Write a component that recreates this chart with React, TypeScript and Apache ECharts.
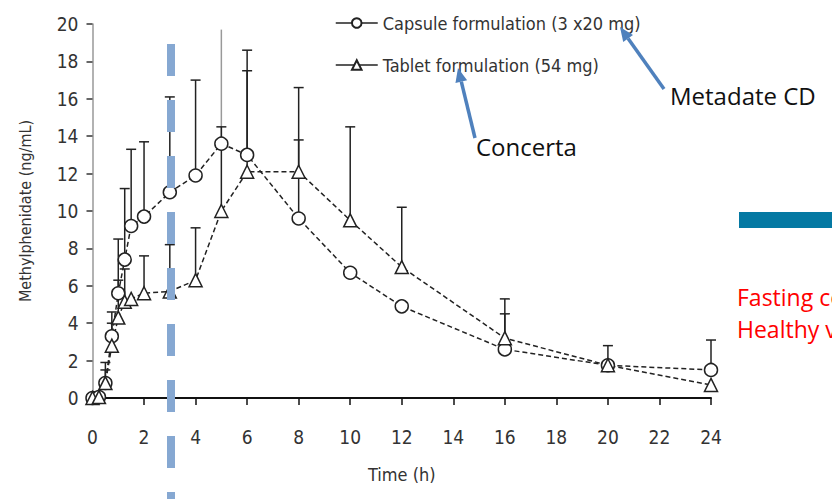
import React, { useEffect, useRef } from "react";
import * as echarts from "echarts";

// Sampling times (h)
const times = [0, 0.25, 0.5, 0.75, 1, 1.25, 1.5, 2, 3, 4, 5, 6, 8, 10, 12, 16, 20, 24];
// Capsule formulation (3 x 20 mg) – Metadate CD
const capsuleMean = [0, 0.05, 0.8, 3.3, 5.6, 7.4, 9.2, 9.7, 11.0, 11.9, 13.6, 13.0, 9.6, 6.7, 4.9, 2.6, 1.75, 1.5];
const capsuleUpper = [null, null, 1.9, 4.6, 8.5, 11.2, 13.3, 13.7, 16.1, 17.0, 19.7, 17.5, 13.8, null, null, 4.5, null, 3.1];
// Tablet formulation (54 mg) – Concerta
const tabletMean = [0, 0.05, 0.8, 2.8, 4.3, 5.15, 5.3, 5.6, 5.7, 6.3, 10.0, 12.1, 12.1, 9.5, 7.0, 3.2, 1.75, 0.7];
const tabletUpper = [null, null, 1.5, 4.0, 6.3, 6.9, null, 7.6, 8.2, 9.1, 14.5, 18.6, 16.6, 14.5, 10.2, 5.3, 2.8, null];

const seriesNames = ["Capsule formulation (3 x20 mg)", "Tablet formulation (54 mg)"];
const xAxisTitle = "Time (h)";
const yAxisTitle = "Methylphenidate (ng/mL)";

const NARROW = "'DejaVu Sans Condensed', 'Liberation Sans Narrow', 'Liberation Sans', sans-serif";
const CAL = "'Open Sans', Lato, sans-serif";

function arrow(sx: number, sy: number, tx: number, ty: number, color: string) {
  const dx = tx - sx, dy = ty - sy;
  const len = Math.sqrt(dx * dx + dy * dy);
  const ux = dx / len, uy = dy / len;
  const hl = 14, hw = 6;
  const bx = tx - ux * hl, by = ty - uy * hl;
  const px = -uy, py = ux;
  return [
    { type: "line", z: 101, shape: { x1: sx, y1: sy, x2: bx, y2: by }, style: { stroke: color, lineWidth: 3.5 } },
    {
      type: "polygon", z: 101,
      shape: { points: [[tx, ty], [bx + px * hw, by + py * hw], [bx - px * hw, by - py * hw]] },
      style: { fill: color },
    },
  ];
}

function errData(mean: number[], upper: (number | null)[]) {
  const out: number[][] = [];
  times.forEach((t, i) => {
    if (upper[i] != null) out.push([t, mean[i], upper[i] as number]);
  });
  return out;
}

function errorSeries(data: number[][]) {
  return {
    type: "custom",
    z: 2,
    silent: true,
    data,
    renderItem: (params: any, api: any) => {
      const x = api.value(0), y = api.value(1), hi = api.value(2);
      const p0 = api.coord([x, y]);
      const p1 = api.coord([x, hi]);
      const gray = hi > 19;
      const color = gray ? "#999" : "#222";
      const children: any[] = [
        { type: "line", shape: { x1: p0[0], y1: p0[1], x2: p1[0], y2: p1[1] }, style: { stroke: color, lineWidth: 1.5 } },
      ];
      if (!gray) {
        children.push({ type: "line", shape: { x1: p1[0] - 5, y1: p1[1], x2: p1[0] + 5, y2: p1[1] }, style: { stroke: color, lineWidth: 1.5 } });
      }
      return { type: "group", children };
    },
  };
}

export default function App() {
  const ref = useRef<HTMLDivElement>(null);
  useEffect(() => {
    if (!ref.current) return;
    const chart = echarts.init(ref.current, null, { renderer: "svg" });
    const lineCommon = {
      type: "line",
      z: 3,
      symbolSize: 13,
      itemStyle: { color: "#fff", borderColor: "#222", borderWidth: 1.5 },
      lineStyle: { color: "#222", width: 1.5, type: [5, 3] },
    };
    chart.setOption({
      animation: false,
      backgroundColor: "#fff",
      grid: { left: 92.5, right: 121, top: 24, bottom: 101 },
      legend: {
        data: seriesNames,
        orient: "vertical",
        left: 330,
        top: 9,
        itemWidth: 42,
        itemHeight: 12,
        itemGap: 24,
        textStyle: { fontFamily: NARROW, fontSize: 18, color: "#333" },
        lineStyle: { type: "solid", width: 1.5 },
      },
      xAxis: {
        type: "value",
        min: 0,
        max: 24,
        interval: 2,
        name: xAxisTitle,
        nameLocation: "middle",
        nameGap: 67,
        nameTextStyle: { fontFamily: NARROW, fontSize: 18, color: "#333" },
        axisLine: { lineStyle: { color: "#111", width: 2 } },
        axisTick: { show: true, length: 7, lineStyle: { color: "#111", width: 1.5 } },
        axisLabel: { margin: 29, fontFamily: NARROW, fontSize: 19, color: "#333" },
        splitLine: { show: false },
      },
      yAxis: {
        type: "value",
        min: 0,
        max: 20,
        interval: 2,
        name: yAxisTitle,
        nameLocation: "middle",
        nameGap: 59,
        nameTextStyle: { fontFamily: NARROW, fontSize: 16, color: "#333" },
        axisLine: { show: true, lineStyle: { color: "#999", width: 1.5 } },
        axisTick: { show: true, length: 6, lineStyle: { color: "#333", width: 1.5 } },
        axisLabel: { margin: 14, fontFamily: NARROW, fontSize: 19, color: "#333" },
        splitLine: { show: false },
      },
      series: [
        errorSeries(errData(capsuleMean, capsuleUpper)),
        errorSeries(errData(tabletMean, tabletUpper)),
        { ...lineCommon, name: seriesNames[0], symbol: "circle", data: times.map((t, i) => [t, capsuleMean[i]]) },
        { ...lineCommon, name: seriesNames[1], symbol: "triangle", data: times.map((t, i) => [t, tabletMean[i]]) },
      ],
      graphic: [
        {
          type: "line", z: 100,
          shape: { x1: 171, y1: 44, x2: 171, y2: 499 },
          style: { stroke: "#86A8D2", lineWidth: 8, lineDash: [32, 24] },
        },
        ...arrow(475, 138, 458, 68, "#4F81BD"),
        ...arrow(664, 89, 620, 27, "#4F81BD"),
        { type: "text", z: 102, x: 476, y: 134, style: { text: "Concerta", font: `24px ${CAL}`, fill: "#111" } },
        { type: "text", z: 102, x: 670, y: 83, style: { text: "Metadate CD", font: `24px ${CAL}`, fill: "#111" } },
        { type: "rect", z: 102, shape: { x: 739, y: 212, width: 93, height: 16 }, style: { fill: "#0579A3" } },
        { type: "text", z: 102, x: 737, y: 285, style: { text: "Fasting conditions", font: `23px ${CAL}`, fill: "#FF0000" } },
        { type: "text", z: 102, x: 737, y: 317, style: { text: "Healthy volunteers", font: `23px ${CAL}`, fill: "#FF0000" } },
      ],
    });
    return () => chart.dispose();
  }, []);
  return (
    <div
      ref={ref}
      style={{ position: "fixed", left: 0, top: 0, width: 832, height: 499, overflow: "hidden" }}
    />
  );
}
